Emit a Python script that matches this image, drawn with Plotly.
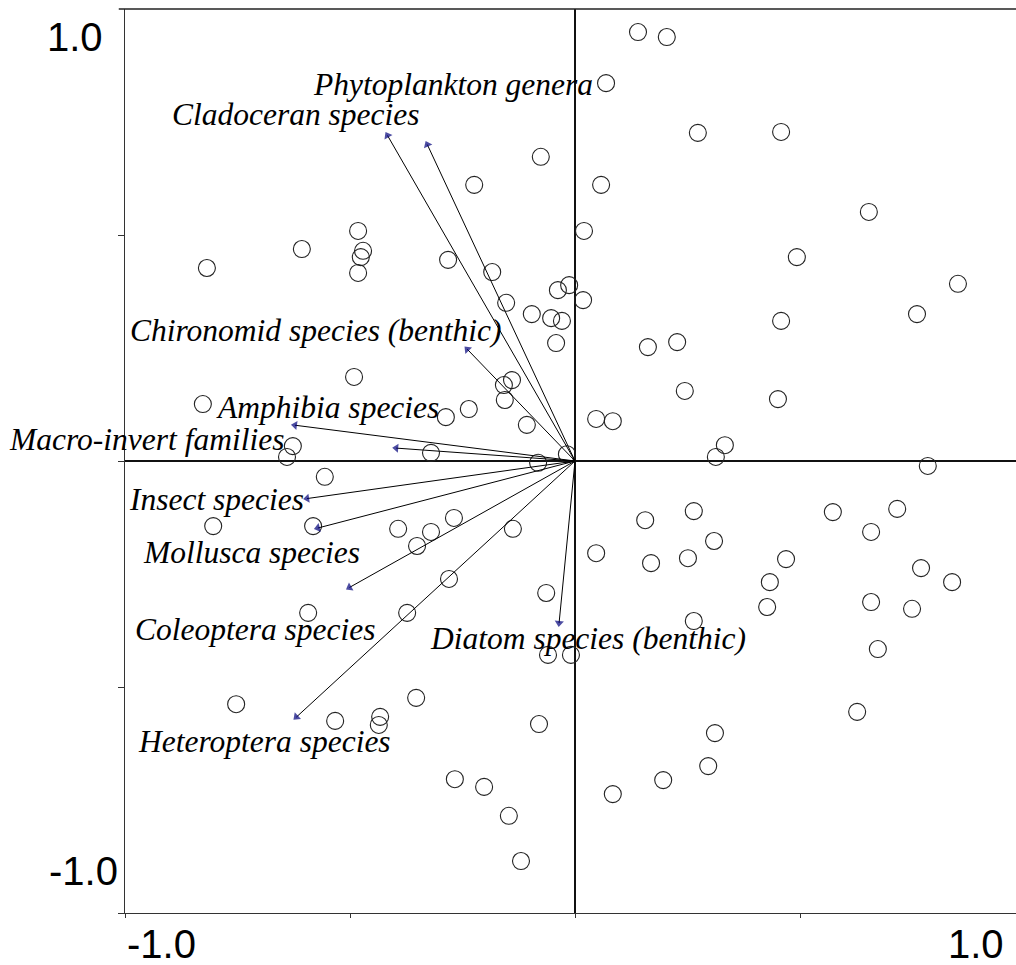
import plotly.graph_objects as go

# Sample scores (open circles)
site_x = [0.140, 0.204, 0.069, 0.273, 0.458, -0.076, 0.058, 0.653, 0.020, 0.493,
          0.851, -0.013, -0.038, 0.018, -0.224, -0.482, -0.607, -0.471, -0.476, -0.482,
          -0.818, -0.282, -0.184, -0.153, -0.096, -0.053, -0.029, -0.042, 0.458, 0.760,
          0.162, 0.227, 0.244, 0.451, -0.140, -0.158, -0.156, -0.107, 0.047, 0.084,
          0.333, 0.313, 0.784, -0.018, -0.082, -0.491, -0.827, -0.236, -0.287, -0.320,
          -0.627, -0.640, -0.556, -0.804, -0.582, -0.393, -0.320, -0.269, -0.351, -0.138,
          0.156, 0.264, 0.309, 0.573, 0.716, 0.658, 0.047, 0.169, 0.251, 0.469,
          0.433, 0.427, 0.769, 0.838, 0.658, 0.749, 0.673, 0.264, 0.627, 0.311,
          0.296, 0.196, 0.084, -0.280, -0.064, -0.593, -0.373, -0.060, -0.009, -0.753,
          -0.353, -0.533, -0.433, -0.436, -0.080, -0.267, -0.202, -0.147, -0.120]
site_y = [0.949, 0.938, 0.836, 0.726, 0.728, 0.673, 0.611, 0.551, 0.509, 0.451,
          0.392, 0.389, 0.378, 0.356, 0.611, 0.509, 0.469, 0.465, 0.451, 0.416,
          0.427, 0.445, 0.418, 0.350, 0.325, 0.316, 0.310, 0.261, 0.310, 0.325,
          0.252, 0.263, 0.155, 0.137, 0.179, 0.168, 0.135, 0.080, 0.093, 0.088,
          0.035, 0.009, -0.011, 0.015, -0.004, 0.186, 0.126, 0.115, 0.097, 0.018,
          0.033, 0.009, -0.035, -0.144, -0.144, -0.150, -0.157, -0.126, -0.188, -0.150,
          -0.131, -0.111, -0.177, -0.113, -0.106, -0.157, -0.204, -0.226, -0.215, -0.217,
          -0.268, -0.323, -0.237, -0.268, -0.312, -0.327, -0.416, -0.354, -0.555, -0.602,
          -0.675, -0.706, -0.737, -0.261, -0.292, -0.336, -0.336, -0.429, -0.429, -0.538,
          -0.524, -0.575, -0.566, -0.584, -0.582, -0.704, -0.721, -0.785, -0.885]

# Species-group vectors
vec_names = ["Phytoplankton genera", "Cladoceran species", "Chironomid species (benthic)",
             "Amphibia species", "Macro-invert families", "Insect species",
             "Mollusca species", "Coleoptera species", "Heteroptera species",
             "Diatom species (benthic)"]
vec_x = [-0.331, -0.420, -0.244, -0.629, -0.404, -0.602, -0.578, -0.507, -0.624, -0.036]
vec_y = [0.706, 0.726, 0.252, 0.080, 0.029, -0.084, -0.150, -0.283, -0.571, -0.365]

# Label placement (centre of each label, in axis units)
lab_x = [-0.271, -0.620, -0.576, -0.550, -0.952, -0.796, -0.719, -0.709, -0.691, 0.028]
lab_y = [0.833, 0.767, 0.289, 0.118, 0.048, -0.086, -0.202, -0.372, -0.620, -0.393]

fig = go.Figure()

fig.add_trace(go.Scatter(
    x=site_x, y=site_y, mode="markers",
    marker=dict(symbol="circle-open", size=17, color="#222222", line=dict(width=1.1)),
    showlegend=False, hoverinfo="skip"))

for vx, vy in zip(vec_x, vec_y):
    fig.add_trace(go.Scatter(
        x=[0, vx], y=[0, vy], mode="lines+markers",
        line=dict(color="black", width=1),
        marker=dict(symbol="triangle-up", size=[0, 8], color="#00007a", angleref="previous",
                    standoff=3, line=dict(width=0)),
        showlegend=False, hoverinfo="skip"))

annotations = []
for name, lx, ly in zip(vec_names, lab_x, lab_y):
    annotations.append(dict(
        x=lx, y=ly, xref="x", yref="y", text="<i>" + name + "</i>", showarrow=False,
        xanchor="center", yanchor="middle",
        font=dict(family="Liberation Serif, Times New Roman, serif", size=31.5, color="black")))

big = dict(family="Liberation Sans, Arial, sans-serif", size=40, color="black")
annotations += [
    dict(x=-0.0225, y=0.9685, xref="paper", yref="paper", text="1.0", showarrow=False,
         xanchor="right", yanchor="middle", font=big),
    dict(x=-0.0057, y=0.0465, xref="paper", yref="paper", text="-1.0", showarrow=False,
         xanchor="right", yanchor="middle", font=big),
    dict(x=0.0005, y=-0.0345, xref="paper", yref="paper", text="-1.0", showarrow=False,
         xanchor="left", yanchor="middle", font=big),
    dict(x=0.9888, y=-0.0345, xref="paper", yref="paper", text="1.0", showarrow=False,
         xanchor="right", yanchor="middle", font=big),
]

fig.update_layout(
    width=1016, height=965,
    margin=dict(l=125, r=0, t=9, b=52),
    paper_bgcolor="white", plot_bgcolor="white",
    showlegend=False,
    annotations=annotations,
    shapes=[dict(type="line", xref="paper", yref="paper", x0=-0.007, x1=1.0, y0=1.0, y1=1.0,
                 line=dict(color="#222222", width=1.3))],
    xaxis=dict(range=[-1.0, 0.98], showgrid=False, zeroline=True, zerolinecolor="#111111",
               zerolinewidth=2, showline=True, linecolor="#333333", linewidth=1, mirror=False,
               ticks="outside", ticklen=4, tickcolor="#333333",
               tickvals=[-1.0, -0.5, 0.0, 0.5], showticklabels=False, fixedrange=True),
    yaxis=dict(range=[-1.0, 1.0], showgrid=False, zeroline=True, zerolinecolor="#111111",
               zerolinewidth=2, showline=True, linecolor="#333333", linewidth=1, mirror=False,
               ticks="outside", ticklen=6, tickcolor="#333333",
               tickvals=[-1.0, -0.5, 0.0, 0.5], showticklabels=False, fixedrange=True),
)

fig.write_html("out.html")
